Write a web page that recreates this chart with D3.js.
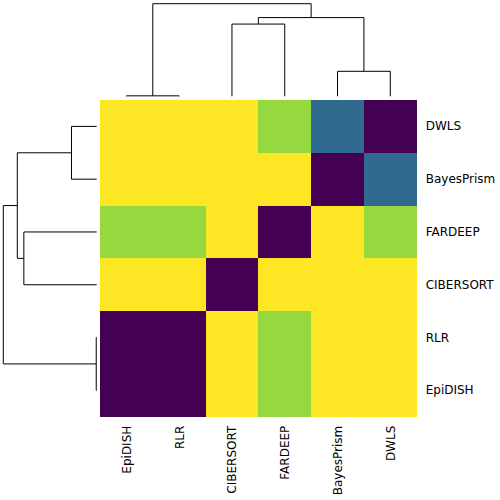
<!DOCTYPE html>
<html><head><meta charset="utf-8">
<script src="https://cdn.jsdelivr.net/npm/d3@7"></script>
<style>body{margin:0;background:#fff}svg{display:block}</style>
</head><body>
<script>
const colOrder = ["EpiDISH","RLR","CIBERSORT","FARDEEP","BayesPrism","DWLS"];
const rowOrder = ["DWLS","BayesPrism","FARDEEP","CIBERSORT","RLR","EpiDISH"];
// distance matrix, rows/cols in colOrder
const matEpiDISH   = [0,0,1,0.84,1,1];
const matRLR       = [0,0,1,0.84,1,1];
const matCIBERSORT = [1,1,0,1,1,1];
const matFARDEEP   = [0.84,0.84,1,0,1,0.84];
const matBayesPrism= [1,1,1,1,0,0.34];
const matDWLS      = [1,1,1,0.84,0.34,0];
const matrixRows = {EpiDISH:matEpiDISH,RLR:matRLR,CIBERSORT:matCIBERSORT,FARDEEP:matFARDEEP,BayesPrism:matBayesPrism,DWLS:matDWLS};
// linkage
const mergeLeft   = ["EpiDISH","CIBERSORT","BayesPrism","m1","m0"];
const mergeRight  = ["RLR","FARDEEP","DWLS","m2","m3"];
const mergeHeight = [0.005,0.78,0.27,0.85,1.0];

const W=500,H=500;
const svg=d3.select("body").append("svg").attr("width",W).attr("height",H);
const x=d3.scaleBand().domain(colOrder).range([100,416.7]);
const y=d3.scaleBand().domain(rowOrder).range([100,416.7]);
const color=d3.scaleSequential(d3.interpolateViridis).domain([0,1]);

const cells=[];
rowOrder.forEach(r=>colOrder.forEach((c,j)=>cells.push({r,c,v:matrixRows[r][j]})));
svg.append("g").selectAll("rect").data(cells).join("rect")
  .attr("x",d=>x(d.c)).attr("y",d=>y(d.r))
  .attr("width",x.bandwidth()+0.5).attr("height",y.bandwidth()+0.5)
  .attr("fill",d=>color(d.v)).attr("shape-rendering","crispEdges");

const font="DejaVu Sans, sans-serif";
svg.append("g").selectAll("text").data(rowOrder).join("text")
  .attr("x",425.7).attr("y",d=>y(d)+y.bandwidth()/2)
  .attr("dominant-baseline","central").attr("font-family",font).attr("font-size",12)
  .text(d=>d);
svg.append("g").selectAll("text").data(colOrder).join("text")
  .attr("transform",d=>`translate(${x(d)+x.bandwidth()/2+0.5},425.7) rotate(-90)`)
  .attr("text-anchor","end").attr("dominant-baseline","central")
  .attr("font-family",font).attr("font-size",12).text(d=>d);

function dendro(posOf, hScale, horizontal){
  const pos={},hgt={};
  const segs=[];
  mergeLeft.forEach((a,i)=>{
    const b=mergeRight[i], h=mergeHeight[i];
    const pa = a in pos ? pos[a] : posOf(a);
    const pb = b in pos ? pos[b] : posOf(b);
    const ha = a in hgt ? hgt[a] : 0;
    const hb = b in hgt ? hgt[b] : 0;
    segs.push([[pa,ha],[pa,h],[pb,h],[pb,hb]]);
    pos["m"+i]=(pa+pb)/2; hgt["m"+i]=h;
  });
  const line=d3.line().x(p=>horizontal?hScale(p[1]):p[0]).y(p=>horizontal?p[0]:hScale(p[1]));
  svg.append("g").selectAll("path").data(segs).join("path")
    .attr("d",line).attr("fill","none").attr("stroke","#000").attr("stroke-width",1);
}
const hTop=d3.scaleLinear().domain([0,1]).range([96.3,3.7]);
dendro(n=>x(n)+x.bandwidth()/2, hTop, false);
const hLeft=d3.scaleLinear().domain([0,1]).range([96.7,3.3]);
dendro(n=>y(n)+y.bandwidth()/2, hLeft, true);
</script>
</body></html>
